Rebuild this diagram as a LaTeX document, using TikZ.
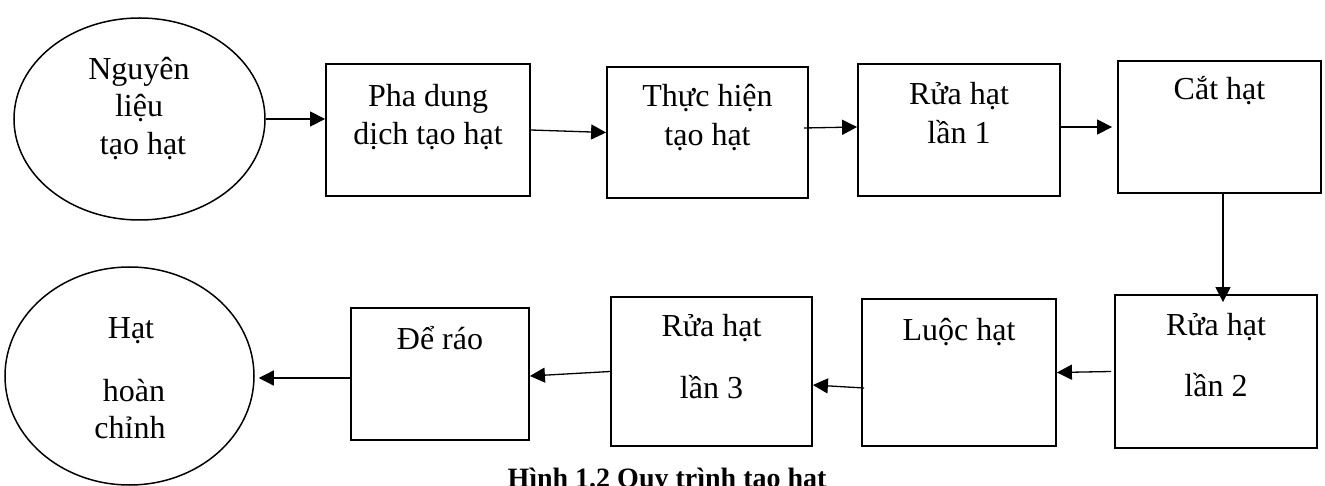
\documentclass[tikz,border=0pt]{standalone}
\usepackage{fontspec}
\setmainfont{Liberation Serif}
\usetikzlibrary{arrows.meta,shapes.geometric}
\begin{document}
\begin{tikzpicture}[x=1pt,y=-1pt,
  stepbox/.style={draw, line width=1.8pt, inner sep=0pt},
  endnode/.style={draw, ellipse, line width=1.5pt, inner sep=0pt},
  flow/.style={-{Triangle[length=15pt,width=15pt]}, line width=1.3pt},
  txt/.style={font=\fontsize{32}{38}\selectfont, inner sep=0pt, anchor=base},
  captxt/.style={font=\fontsize{28}{33}\selectfont\bfseries, inner sep=0pt, anchor=base}]
\useasboundingbox (0,0) rectangle (1325,486);

% process steps, top row (left to right)
\node[endnode, minimum width=251pt, minimum height=202pt] (src) at (139.5,119) {};
\node[stepbox, minimum width=204pt, minimum height=132pt] (pha) at (428,130) {};
\node[stepbox, minimum width=201pt, minimum height=131pt] (thuc) at (707.5,132.5) {};
\node[stepbox, minimum width=202pt, minimum height=132pt] (rua1) at (959,130) {};
\node[stepbox, minimum width=203pt, minimum height=132pt] (cat) at (1219.5,127) {};

% process steps, bottom row (right to left)
\node[stepbox, minimum width=202pt, minimum height=153pt] (rua2) at (1216,371.5) {};
\node[stepbox, minimum width=194pt, minimum height=147pt] (luoc) at (959,372.5) {};
\node[stepbox, minimum width=201pt, minimum height=149pt] (rua3) at (711.5,371.5) {};
\node[stepbox, minimum width=178pt, minimum height=132pt] (deraro) at (440,374) {};
\node[endnode, minimum width=249pt, minimum height=218pt] (done) at (129.5,376) {};

% labels
\node[txt] at (139,80) {Nguyên};
\node[txt] at (139,117) {liệu};
\node[txt] at (143,155) {tạo hạt};
\node[txt] at (428,107) {Pha dung};
\node[txt] at (428,145) {dịch tạo hạt};
\node[txt] at (707.5,107) {Thực hiện};
\node[txt] at (707.5,146) {tạo hạt};
\node[txt] at (959,105) {Rửa hạt};
\node[txt] at (959,144) {lần 1};
\node[txt] at (1219.5,100) {Cắt hạt};
\node[txt] at (1216,335) {Rửa hạt};
\node[txt] at (1216,396) {lần 2};
\node[txt] at (959,340) {Luộc hạt};
\node[txt] at (711.5,337) {Rửa hạt};
\node[txt] at (711.5,398) {lần 3};
\node[txt] at (440,349) {Để ráo};
\node[txt] at (131,338) {Hạt};
\node[txt] at (134,401) {hoàn};
\node[txt] at (130,438) {chỉnh};

% flow arrows
\draw[flow] (src.east) -- (src.east -| pha.west);
\draw[flow] (pha.east) -- (thuc.west);
\draw[flow] ([xshift=-5pt,yshift=4.5pt]thuc.east) -- ([yshift=3pt]rua1.west);
\draw[flow] ([yshift=3pt]rua1.east) -- ([xshift=-5pt]cat.west);
\draw[flow, shorten >=-8pt] ([xshift=3.5pt]cat.south) -- ([xshift=3.5pt]cat.south |- rua2.north);
\draw[flow] ([xshift=-3pt]rua2.west) -- (luoc.east);
\draw[flow] ([xshift=3pt,yshift=-15.5pt]luoc.west) -- ([yshift=-13.5pt]rua3.east);
\draw[flow] (rua3.west) -- ([yshift=-2pt]deraro.east);
\draw[flow] ([yshift=-4pt]deraro.west) -- ([xshift=4pt,yshift=-2pt]done.east);

% caption
\node[captxt] (caption) at (667,487) {Hình 1.2 Quy trình tạo hạt};
\end{tikzpicture}
\end{document}
